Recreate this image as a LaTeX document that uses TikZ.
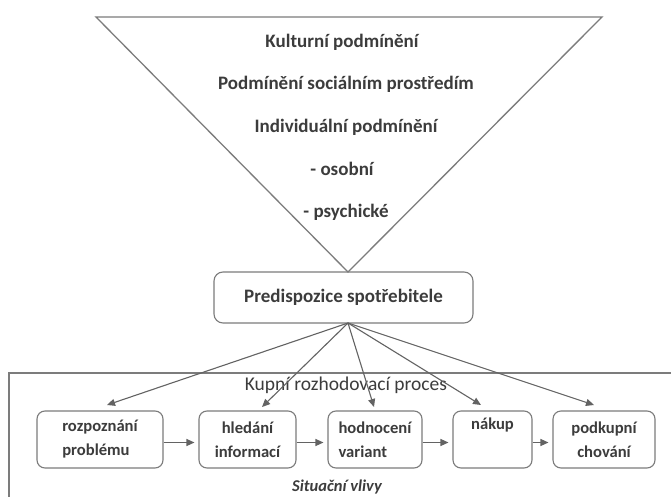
\documentclass[tikz,border=0pt]{standalone}
\usepackage{fontspec}
\setmainfont{Carlito}
\usetikzlibrary{arrows.meta}
\definecolor{ln}{HTML}{7C7C7C}
\definecolor{tx}{HTML}{3C3C3C}
\tikzset{
  tritext/.style={font=\bfseries\fontsize{19}{22}\selectfont, text=tx, inner sep=0pt},
  stepbox/.style={draw=ln, line width=1.1pt, rounded corners=8pt, minimum height=57pt, inner sep=0pt,
    font=\bfseries\fontsize{16.6}{24}\selectfont, text=tx},
  arr/.style={draw=ln!80!black, line width=1.1pt, -{Triangle[length=8pt,width=7pt]}},
}
\begin{document}
\begin{tikzpicture}[x=1pt,y=-1pt]
\clip (0,0) rectangle (671,497);
\fill[white] (0,0) rectangle (671,497);
% triangle
\coordinate (tl) at (96,17);
\coordinate (tr) at (602,17);
\coordinate (ap) at (348,272);
\draw[ln, line width=1.3pt, line join=miter] (tl) -- (tr) -- (ap) -- cycle;
\node[tritext] (t1) at (342,42) {Kulturní podmínění};
\node[tritext] (t2) at (346,84) {Podmínění sociálním prostředím};
\node[tritext] (t3) at (346,127) {Individuální podmínění};
\node[tritext] (t4) at (342,169) {- osobní};
\node[tritext] (t5) at (346,212) {- psychické};
% predispozice
\node[draw=ln, line width=1.1pt, rounded corners=9pt, minimum width=259pt, minimum height=51pt,
  font=\bfseries\fontsize{19}{22}\selectfont, text=tx] (P) at (343.5,297.5) {Predispozice spotřebitele};
% big frame
\coordinate (fbl) at (9,500);
\coordinate (ftl) at (9,373);
\coordinate (ftr) at (675,373);
\draw[ln, line width=1.1pt] (fbl) -- (ftl) -- (ftr);
\node[font=\fontsize{19.5}{22}\selectfont, text=tx] (K) at (346,385) {Kupní rozhodovací proces};
% steps
\node[stepbox, minimum width=126pt, align=left] (B1) at (100,439.5) {rozpoznání\\problému};
\node[stepbox, minimum width=97pt, align=center] (B2) at (247.5,439.5) {hledání\\informací};
\node[stepbox, minimum width=94pt, align=left] (B3) at (375,439.5) {hodnocení\\variant};
\node[stepbox, minimum width=79pt, align=center] (B4) at (492.5,439.5) {nákup\hspace{10pt}\\\strut};
\node[stepbox, minimum width=102pt, align=center] (B5) at (604,439.5) {podkupní\\chování};
\foreach \a/\b in {B1/B2,B2/B3,B3/B4,B4/B5}
  \draw[arr, shorten >=4pt] ([yshift=-3pt]\a.east) -- ([yshift=-3pt]\b.west);
% fan
\coordinate (o) at (348,323);
\coordinate (e1) at (107,405);
\coordinate (e2) at (262,407);
\coordinate (e3) at (374,407);
\coordinate (e4) at (481,405);
\coordinate (e5) at (594,405);
\foreach \e in {e1,e2,e3,e4,e5}
  \draw[arr] (o) -- (\e);
\node[font=\bfseries\itshape\fontsize{16.5}{19}\selectfont, text=tx] (S) at (337,487) {Situační vlivy};
\end{tikzpicture}
\end{document}
